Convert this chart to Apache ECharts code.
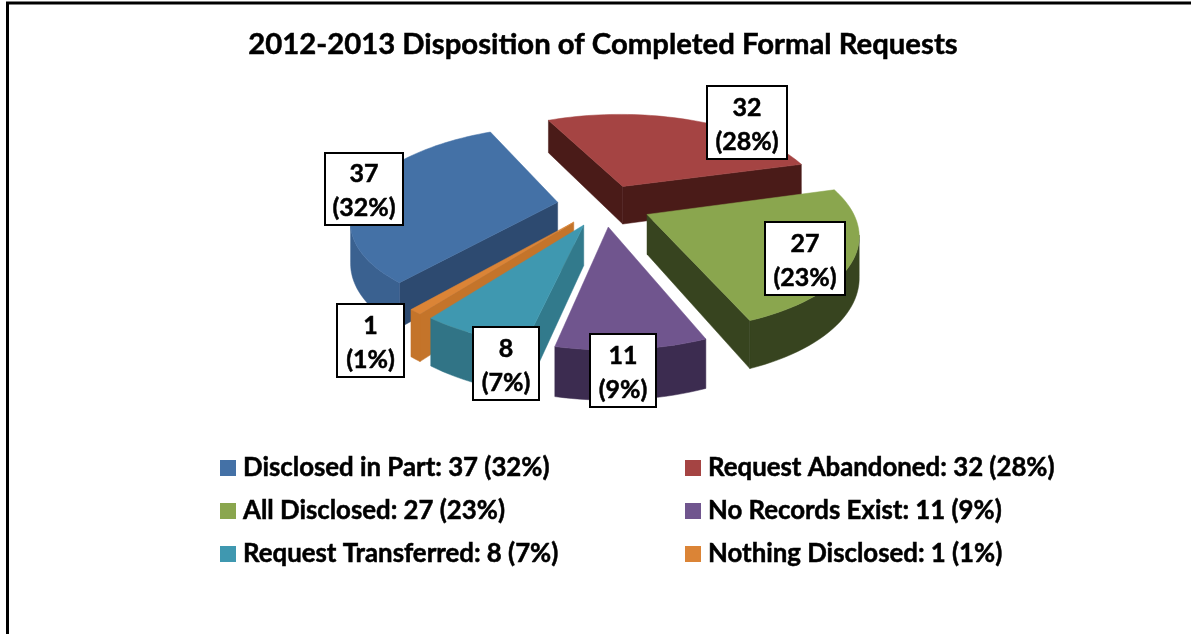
<!DOCTYPE html>
<html>
<head>
<meta charset="utf-8">
<style>html,body{margin:0;padding:0;background:#fff}#c{width:1191px;height:634px}</style>
<script src="https://cdn.jsdelivr.net/npm/echarts@6/dist/echarts.min.js"></script>
</head>
<body>
<div id="c"></div>
<script>
const categories = ['Disclosed in Part','Request Abandoned','All Disclosed','No Records Exist','Request Transferred','Nothing Disclosed'];
const values = [37,32,27,11,8,1];
const percents = ['32%','28%','23%','9%','7%','1%'];
const topColors = ['#4471a6','#a54443','#8aa64e','#70558e','#3f98b0','#db8436'];
const wallColors = ['#2d4a70','#4a1b18','#37441f','#3f2f55','#327a8c','#c4742a'];
const rimColors = ['#3a6190','#6e2c2a','#37441f','#3c2c50','#317486','#c4742a'];
const drawOrder = [1,0,2,5,4,3];
const labelBoxes = [[325,153,78,72],[707,86,80,73],[765,222,80,73],[590,334,66,73],[473,327,66,73],[337,304,67,73]];

const FONT = 'Lato, Carlito, Calibri, sans-serif';
const CX = 604, CY = 205, RADIUS = 203, EXPLODE = 47, TILT = 0.45, PERSP = 1114, HEIGHT = 39, FIRST_ANGLE = 220;
const total = values.reduce((a,b)=>a+b,0);

function proj(x,y,z){
  const g = PERSP/(PERSP+y);
  return [CX + x*g, CY - (y*TILT + z)*g];
}
function makeRenderer(idx){
  return function(params, api){
    const v = api.value(0);
    let before = 0;
    for(let i=0;i<idx;i++) before += values[i];
    const a0 = (90 - FIRST_ANGLE - before/total*360)*Math.PI/180;
    const a1 = a0 - v/total*2*Math.PI;
    const mid = (a0+a1)/2;
    const ox = EXPLODE*Math.cos(mid), oy = EXPLODE*Math.sin(mid);
    const at = (r,a,z)=>proj(ox+r*Math.cos(a), oy+r*Math.sin(a), z);
    const n = Math.max(2, Math.ceil((a0-a1)/(Math.PI/90)));
    const rimAngles = [];
    for(let i=0;i<=n;i++) rimAngles.push(a0+(a1-a0)*i/n);
    const base = drawOrder.indexOf(idx)*10;
    const children = [];
    const poly = (points, fill, z2) => children.push({type:'polygon', z2, shape:{points}, style:{fill, stroke:fill, lineWidth:0.5}});
    // radial walls
    const apexT = at(0,0,0), apexB = at(0,0,-HEIGHT);
    const s = at(RADIUS,a0,0), e = at(RADIUS,a1,0);
    if(s[0]<apexT[0]) poly([apexT,s,at(RADIUS,a0,-HEIGHT),apexB], wallColors[idx], base+1);
    if(e[0]>apexT[0]) poly([apexT,e,at(RADIUS,a1,-HEIGHT),apexB], wallColors[idx], base+1);
    // outer rim: merge consecutive front-facing segments
    let run = [];
    const flush = ()=>{
      if(run.length>1){
        const top = run.map(a=>at(RADIUS,a,0));
        const bot = run.slice().reverse().map(a=>at(RADIUS,a,-HEIGHT));
        poly(top.concat(bot), rimColors[idx], base+2);
      }
      run = [];
    };
    for(let i=0;i<n;i++){
      const p = at(RADIUS,rimAngles[i],0), q = at(RADIUS,rimAngles[i+1],0);
      if(q[0]<p[0]){ if(!run.length) run.push(rimAngles[i]); run.push(rimAngles[i+1]); }
      else flush();
    }
    flush();
    // top face
    poly([apexT].concat(rimAngles.map(a=>at(RADIUS,a,0))), topColors[idx], base+3);
    // value label: white box with black border, then text
    const b = labelBoxes[idx];
    children.push({type:'rect', z2:1000, shape:{x:b[0],y:b[1],width:b[2],height:b[3]},
      style:{fill:'#fff', stroke:'#000', lineWidth:2}});
    children.push({type:'text', z2:1001, x:b[0]+b[2]/2, y:b[1]+b[3]/2+2,
      style:{text:v+'\n('+percents[idx]+')', font:'bold 25px '+FONT, lineHeight:34, fill:'#000',
        stroke:'#000', lineWidth:0.5, align:'center', verticalAlign:'middle'}});
    return {type:'group', children};
  };
}

const series = categories.map((c,i)=>({
  type:'custom', name:c+': '+values[i]+' ('+percents[i]+')', coordinateSystem:'none',
  data:[[values[i]]], itemStyle:{color:topColors[i]}, silent:true, animation:false,
  renderItem:makeRenderer(i)
}));
const legendBase = {orient:'vertical', itemWidth:16, itemHeight:16, itemGap:13, icon:'rect', selectedMode:false,
  textStyle:{fontFamily:FONT, fontWeight:'bold', fontSize:25.8, color:'#000', padding:[0,0,0,2], lineHeight:30,
    textBorderColor:'#000', textBorderWidth:0.5}};
const chart = echarts.init(document.getElementById('c'), null, {renderer:'canvas'});
chart.setOption({
  animation:false,
  backgroundColor:'#fff',
  title:{text:'2012-2013 Disposition of Completed Formal Requests', left:598, top:25, textAlign:'center',
    textStyle:{fontFamily:FONT, fontWeight:'bold', fontSize:29.3, color:'#000', textBorderColor:'#000', textBorderWidth:0.5}},
  legend:[
    Object.assign({left:215, top:448, data:series.filter((_,i)=>i%2===0).map(s=>s.name)}, legendBase),
    Object.assign({left:680, top:448, data:series.filter((_,i)=>i%2===1).map(s=>s.name)}, legendBase)
  ],
  graphic:[
    {type:'line', shape:{x1:7.5,y1:3,x2:7.5,y2:634}, style:{stroke:'#000',lineWidth:3}},
    {type:'line', shape:{x1:6,y1:3,x2:1191,y2:3}, style:{stroke:'#000',lineWidth:3}}
  ],
  series
});
</script>
</body>
</html>
